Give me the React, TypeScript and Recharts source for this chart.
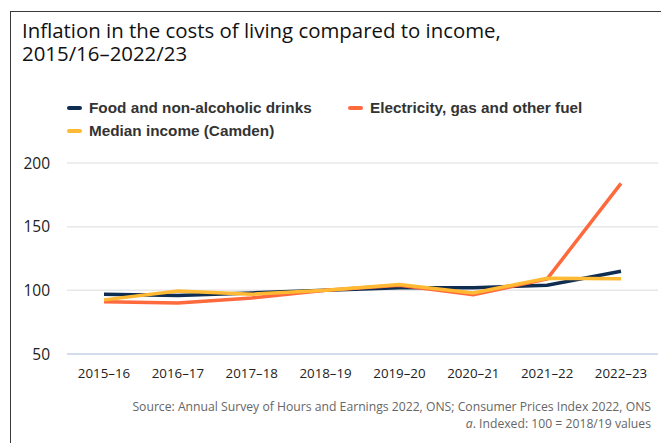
import React from 'react';
import { LineChart, Line, XAxis, YAxis, CartesianGrid } from 'recharts';

const years = ['2015–16', '2016–17', '2017–18', '2018–19', '2019–20', '2020–21', '2021–22', '2022–23'];
const food = [97, 96, 98, 100, 102, 102, 104, 115];
const energy = [91, 90, 94, 100, 104, 96.5, 109, 184];
const income = [92.5, 99.5, 97, 100, 104.5, 98, 109.5, 109];
const yTicks = [50, 100, 150, 200];

const series = [
  { key: 'food', name: 'Food and non-alcoholic drinks', color: '#0f2d50' },
  { key: 'energy', name: 'Electricity, gas and other fuel', color: '#ff6a3d' },
  { key: 'income', name: 'Median income (Camden)', color: '#ffb933' },
];

const data = years.map((year, i) => ({
  year,
  food: food[i],
  energy: energy[i],
  income: income[i],
}));

const bodyFont = '"Open Sans", "DejaVu Sans", sans-serif';

function LegendItem({ s, left, top }: { s: typeof series[number]; left: number; top: number }) {
  return (
    <div style={{ position: 'absolute', left, top, display: 'flex', alignItems: 'center', whiteSpace: 'nowrap' }}>
      <span style={{ width: 15, height: 4, background: s.color, borderRadius: 2, marginRight: 7 }} />
      <span style={{ fontFamily: '"Liberation Sans", Arial, sans-serif', fontWeight: 700, fontSize: 15.3, lineHeight: '18px', color: '#333' }}>
        {s.name}
      </span>
    </div>
  );
}

export default function App() {
  return (
    <div style={{ position: 'fixed', left: 0, top: 0, width: 661, height: 443, overflow: 'hidden', background: '#fff' }}>
      <div
        style={{
          position: 'absolute', left: 10, top: 11, width: 700, height: 500,
          border: '1.5px solid #3a3a3a', boxSizing: 'border-box',
        }}
      />
      <div style={{ position: 'absolute', left: 22, top: 18.5, fontFamily: bodyFont, fontSize: 20.4, lineHeight: '23px', height: 23, color: '#111', whiteSpace: 'nowrap' }}>
        Inflation in the costs of living compared to income,
      </div>
      <div style={{ position: 'absolute', left: 22, top: 42, fontFamily: bodyFont, fontSize: 20.4, lineHeight: '23px', height: 23, color: '#111' }}>
        2015/16–2022/23
      </div>
      <LegendItem s={series[0]} left={67} top={99} />
      <LegendItem s={series[1]} left={348} top={99} />
      <LegendItem s={series[2]} left={67} top={122} />
      <div style={{ position: 'absolute', left: 0, top: 0 }}>
        <LineChart width={661} height={443} data={data} margin={{ top: 163, right: 3, bottom: 59, left: 10 }}>
          <CartesianGrid horizontal vertical={false} stroke="#e8e8e8" strokeWidth={1.5} />
          <XAxis
            dataKey="year"
            height={30}
            padding={{ left: 37, right: 37 }}
            axisLine={{ stroke: '#c9d6ec', strokeWidth: 1.5 }}
            tickLine={false}
            tickMargin={9}
            tick={{ fontSize: 13.3, fill: '#222', fontFamily: bodyFont }}
            interval={0}
          />
          <YAxis
            width={57}
            domain={[50, 200]}
            ticks={yTicks}
            axisLine={false}
            tickLine={false}
            tickSize={0}
            tickMargin={17}
            tick={{ fontSize: 15.5, fill: '#222', fontFamily: bodyFont }}
          />
          {series.map((s) => (
            <Line
              key={s.key}
              type="linear"
              dataKey={s.key}
              name={s.name}
              stroke={s.color}
              strokeWidth={3.5}
              dot={false}
              activeDot={false}
              isAnimationActive={false}
            />
          ))}
        </LineChart>
      </div>
      <div
        style={{
          position: 'absolute', right: 10, top: 398, textAlign: 'right', fontFamily: bodyFont,
          fontSize: 12.2, lineHeight: '17px', color: '#666', whiteSpace: 'nowrap',
        }}
      >
        Source: Annual Survey of Hours and Earnings 2022, ONS; Consumer Prices Index 2022, ONS
        <br />
        <i>a</i>. Indexed: 100 = 2018/19 values
      </div>
    </div>
  );
}
